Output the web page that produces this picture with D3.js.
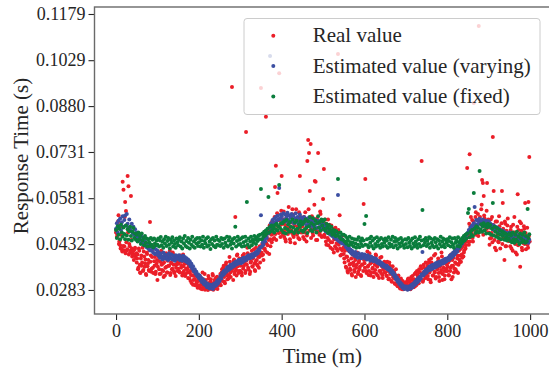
<!DOCTYPE html>
<html><head><meta charset="utf-8">
<script src="https://cdn.jsdelivr.net/npm/d3@7"></script>
<style>body{margin:0;background:#fff}svg{display:block}</style>
</head><body><svg id="c" width="549" height="370"></svg>
<script>
// Values in units of 1e-4 s (0.1 ms)
// realValue: even minutes t = 0, 2, ..., 998 ; realValueOdd: odd minutes t = 1, 3, ..., 999
const realValue = [
470,455,498,526,440,428,462,415,634,608,425,569,539,410,653,620,432,405,588,418,400,412,395,420,388,
372,398,355,410,340,385,362,420,348,392,370,335,404,360,380,345,504,395,352,415,338,376,390,342,368,
315,378,350,402,336,365,390,345,372,330,395,358,340,385,362,410,338,370,352,398,344,380,328,366,392,
352,388,340,375,362,330,398,345,368,335,380,350,322,365,340,312,355,330,300,342,318,335,305,325,296,
312,290,325,300,285,318,295,335,288,305,298,283,320,292,310,286,302,330,294,315,289,308,326,297,312,
305,335,318,350,328,362,310,345,372,330,358,320,390,340,365,942,352,378,335,520,348,395,360,338,385,
345,372,330,395,360,382,338,796,365,402,350,388,342,376,410,358,395,368,345,420,380,362,405,390,372,
939,395,420,380,440,410,845,455,428,470,400,448,482,438,465,500,452,617,686,478,598,510,987,470,495,
653,470,512,455,495,440,528,468,505,482,448,520,475,545,460,498,435,512,470,488,452,535,653,478,500,
490,455,520,470,505,440,702,770,728,604,757,480,512,460,495,637,634,475,445,728,500,468,530,458,485,
578,676,455,498,430,480,512,445,468,420,492,438,470,405,455,485,418,448,1049,430,526,395,440,412,460,
400,372,425,355,390,340,410,365,348,385,330,398,362,342,380,355,405,335,372,350,388,328,366,395,562,
370,643,345,390,358,332,402,368,340,385,355,325,378,348,395,362,330,372,345,388,338,360,322,350,375,
340,365,328,352,318,372,335,345,310,360,322,338,302,350,315,295,330,305,288,320,298,312,285,305,292,
295,310,285,320,298,290,315,302,328,305,318,295,340,312,332,305,350,322,360,702,338,315,355,330,372,
335,362,318,380,345,308,372,352,330,395,340,320,365,350,385,325,358,340,405,315,368,345,330,378,352,
345,372,330,390,355,318,380,362,340,405,350,368,385,338,410,372,395,420,388,430,405,445,418,460,679,
455,430,724,490,468,510,440,890,478,520,462,488,530,1140,505,472,545,640,630,588,515,498,482,630,500,
470,430,495,452,520,780,604,445,480,412,505,462,438,490,418,475,604,565,450,380,498,425,470,515,442,
460,425,488,440,410,470,520,432,455,398,594,478,445,358,500,420,465,435,482,565,415,450,430,569,715
];
const realValueOdd = [
478,462,505,432,445,418,490,408,426,412,520,402,438,415,470,398,425,410,445,392,408,380,415,398,402,
385,350,418,365,338,395,372,345,408,358,382,332,400,368,348,412,375,342,390,355,425,362,335,398,380,
358,392,335,375,410,348,368,325,385,355,402,340,378,362,395,332,372,350,405,365,338,388,355,376,345,
368,342,395,355,375,338,360,385,328,352,370,340,358,320,345,332,305,350,315,328,298,338,310,290,318,
298,322,287,310,340,295,305,284,315,300,290,328,306,288,318,296,335,284,308,292,322,300,286,315,302,
320,298,340,312,355,325,305,365,338,318,350,332,375,325,345,360,315,382,342,355,330,398,368,345,375,
362,340,385,352,400,368,345,378,420,355,392,335,372,398,360,385,415,348,375,402,365,392,355,425,398,
405,432,398,452,418,462,435,405,478,445,492,425,462,505,448,485,520,465,445,532,490,468,510,455,540,
498,462,538,475,448,515,490,465,552,480,438,502,468,528,455,492,472,545,462,508,480,448,520,470,492,
470,512,448,535,482,460,505,545,475,490,452,522,468,498,560,480,445,515,472,500,462,538,478,455,505,
488,462,512,440,478,452,428,495,465,438,470,415,482,448,425,462,435,410,478,442,418,452,398,435,420,
385,410,358,392,345,378,415,352,368,335,398,372,348,388,325,365,402,342,378,358,332,390,365,345,380,
355,382,338,408,362,345,392,330,372,352,385,340,365,398,335,358,378,322,368,345,390,332,355,370,340,
352,330,375,345,320,362,338,312,348,325,342,305,330,318,298,325,308,292,315,300,285,310,295,288,302,
302,288,318,294,308,285,325,300,315,292,335,310,298,345,325,305,340,318,352,330,310,365,342,322,348,
352,328,372,340,315,385,355,330,365,342,400,325,355,375,338,312,362,348,392,335,355,318,382,345,365,
358,332,378,345,398,362,325,388,352,372,410,342,395,365,382,415,375,398,425,392,412,438,428,455,440,
465,498,440,520,478,452,505,490,465,535,482,510,458,498,520,475,560,492,462,525,505,478,540,488,512,
485,450,512,468,438,495,478,420,505,458,485,440,522,470,448,500,432,482,462,505,425,475,492,445,468,
452,478,418,462,495,438,470,405,455,488,428,462,505,440,475,412,458,490,432,468,442,485,420,458,440
];
// estimates: t = 0, 2, ..., 998
const estimatedVarying = [
482,500,470,508,490,515,478,503,522,488,510,525,492,530,498,486,512,480,474,498,468,488,462,480,458,
470,455,462,448,458,440,456,436,450,428,440,432,422,434,418,430,412,426,410,420,404,418,400,415,402,
410,395,404,388,400,392,382,405,390,398,384,396,388,380,402,391,385,398,382,394,387,378,396,384,392,
384,396,380,392,386,378,394,382,390,376,386,372,382,368,376,360,368,352,360,344,350,336,342,328,334,
322,330,315,322,308,318,302,312,298,306,292,302,296,288,300,292,298,286,302,294,306,298,312,304,318,
312,328,320,338,330,344,336,348,342,356,346,358,350,364,354,366,358,370,362,374,366,376,368,380,372,
380,370,384,374,388,378,386,380,392,384,396,386,392,388,398,390,400,394,404,398,408,402,414,410,420,
526,424,436,430,448,440,458,452,470,466,484,1043,500,486,510,496,514,502,520,508,524,512,614,516,528,
522,508,532,512,528,505,520,534,510,526,502,518,530,508,524,500,516,532,506,520,498,514,528,504,518,
512,498,520,504,515,492,510,498,518,490,508,496,514,488,504,494,510,484,500,508,486,498,480,494,486,
496,480,492,474,488,470,484,466,478,462,474,458,470,454,466,450,462,446,591,442,456,438,450,434,444,
438,430,436,422,428,414,420,408,414,402,410,398,404,394,406,392,400,388,402,390,396,386,400,388,394,
398,386,394,382,396,384,390,378,392,382,388,376,386,380,384,372,378,370,376,366,372,362,368,358,364,
360,354,362,350,356,346,352,340,346,334,340,326,332,318,324,310,316,302,308,296,302,290,296,286,294,
288,294,284,292,286,296,288,300,292,304,298,310,302,316,308,322,314,326,320,334,406,330,342,336,348,
340,352,346,358,348,362,350,364,354,366,356,370,358,372,362,374,364,376,368,378,370,382,372,384,376,
382,388,380,394,386,398,390,404,396,410,402,414,408,420,418,428,426,436,434,444,446,452,456,462,466,
470,478,474,486,480,492,488,500,552,496,510,494,508,498,514,500,506,492,512,498,504,490,508,496,502,
506,490,498,486,494,480,492,478,488,474,486,472,482,470,478,466,476,464,474,462,470,460,468,458,466,
470,456,464,452,466,450,460,446,462,448,458,444,460,446,454,440,456,444,452,438,450,442,448,436,446
];
const estimatedFixed = [
478,452,490,462,482,448,495,470,456,486,465,448,492,460,480,446,474,488,458,444,472,484,452,466,446,
462,440,470,448,458,432,466,444,452,428,458,436,450,424,448,438,426,452,430,446,422,450,434,428,444,
430,450,424,444,455,428,440,420,448,434,456,426,442,452,430,418,446,436,454,424,444,432,420,450,438,
428,446,454,424,440,418,450,434,458,426,442,422,452,436,418,446,430,456,424,440,420,448,434,452,426,
438,452,424,444,430,456,420,442,434,450,424,454,428,440,416,448,432,452,426,444,422,456,430,446,428,
442,426,452,432,448,420,450,436,428,456,424,444,454,430,440,418,448,434,452,488,424,442,456,430,446,
432,450,424,454,438,426,456,442,569,430,450,422,440,456,428,446,436,458,446,432,454,442,460,448,462,
611,448,466,456,472,460,476,466,482,585,470,488,474,492,478,486,470,494,480,498,476,490,624,484,500,
478,500,470,506,484,466,510,480,496,472,504,488,474,512,486,468,502,478,508,482,470,496,488,506,476,
496,472,504,480,512,486,468,506,490,520,478,500,474,516,494,482,508,470,500,522,486,504,476,512,492,
506,482,512,476,498,486,468,494,480,472,488,462,478,466,476,458,474,460,643,468,454,470,448,462,446,
462,440,458,434,452,444,428,456,438,430,450,436,424,448,434,420,446,430,454,422,442,432,450,426,444,
497,430,523,448,428,422,450,436,456,426,444,418,450,432,424,454,440,428,446,420,452,432,424,446,436,
450,426,444,420,454,434,424,446,430,456,422,440,452,428,442,418,448,434,424,452,436,444,428,420,448,
432,446,422,452,436,426,444,418,450,434,424,454,440,430,420,448,432,456,424,444,543,428,446,436,452,
426,444,432,454,420,450,436,428,446,422,452,438,426,448,418,444,432,456,424,440,450,430,422,446,436,
448,428,442,454,424,438,450,430,420,452,436,444,426,454,438,424,446,434,452,440,458,444,462,450,466,
533,546,454,472,462,478,458,598,482,468,490,474,486,470,669,480,496,472,488,500,476,492,466,486,498,
488,466,494,462,482,565,460,488,472,456,484,466,452,478,462,448,474,458,470,446,466,454,444,462,450,
466,442,460,438,470,448,436,462,446,472,440,456,432,466,450,438,462,444,470,436,458,440,546,452,464
];
const seriesNames = ["Real value", "Estimated value (varying)", "Estimated value (fixed)"];
const seriesColors = ["#eb1e28", "#3c4fa2", "#0a7d3c"];
const yTickLabels = ["0.0283", "0.0432", "0.0581", "0.0731", "0.0880", "0.1029", "0.1179"];
const xTickValues = [0, 200, 400, 600, 800, 1000];
const xLabel = "Time (m)";
const yLabel = "Response Time (s)";

const FONT = "'Liberation Serif','Times New Roman',serif";
const svg = d3.select("#c");
const L = 94.5, R = 550.4, T = 7, B = 314;
const x = d3.scaleLinear().domain([-52, 1049]).range([L, R]);
const y = d3.scaleLinear().domain([0.0205, 0.12017]).range([B, T]);

const realPts = realValue.map((v, i) => ({t: 2 * i, v: v / 10000}))
  .concat(realValueOdd.map((v, i) => ({t: 2 * i + 1, v: v / 10000})))
  .sort((a, b) => a.t - b.t);
const varPts = estimatedVarying.map((v, i) => ({t: 2 * i, v: v / 10000}));
const fixPts = estimatedFixed.map((v, i) => ({t: 2 * i, v: v / 10000}));

const pts = svg.append("g");
[realPts, varPts, fixPts].forEach((ser, si) => {
  pts.append("g").selectAll("circle").data(ser).join("circle")
    .attr("cx", d => x(d.t)).attr("cy", d => y(d.v)).attr("r", 2)
    .attr("fill", seriesColors[si]);
});

// axes
const yAxis = d3.axisLeft(y).tickValues(yTickLabels.map(Number))
  .tickFormat((d, i) => yTickLabels[i]).tickSize(6).tickPadding(3).tickSizeOuter(0);
const xAxis = d3.axisBottom(x).tickValues(xTickValues).tickFormat(d3.format("d"))
  .tickSize(6).tickPadding(4.5).tickSizeOuter(0);
const gy = svg.append("g").attr("transform", `translate(${L},0)`).call(yAxis);
const gx = svg.append("g").attr("transform", `translate(0,${B})`).call(xAxis);
[gx, gy].forEach(g => {
  g.select(".domain").remove();
  g.selectAll("line").attr("stroke", "#262626").attr("stroke-width", 1.1);
  g.selectAll("text").attr("fill", "#262626").style("font-family", FONT).style("font-size", "18px");
});

// frame
svg.append("rect").attr("x", L).attr("y", T).attr("width", R - L).attr("height", B - T)
  .attr("fill", "none").attr("stroke", "#6a6a6a").attr("stroke-width", 1.4);

// labels
svg.append("text").attr("x", (L + R) / 2).attr("y", 362.5).attr("text-anchor", "middle")
  .style("font-family", FONT).style("font-size", "21px").attr("fill", "#262626").text(xLabel);
svg.append("text").attr("transform", "translate(28,156) rotate(-90)").attr("text-anchor", "middle")
  .style("font-family", FONT).style("font-size", "21px").attr("fill", "#262626").text(yLabel);

// legend
const lg = svg.append("g");
lg.append("rect").attr("x", 244).attr("y", 18.5).attr("width", 296).attr("height", 96).attr("rx", 3)
  .attr("fill", "#fff").attr("fill-opacity", 0.8).attr("stroke", "#cccccc").attr("stroke-width", 1);
seriesNames.forEach((name, i) => {
  const base = 42.3 + i * 30.3;
  lg.append("circle").attr("cx", 273.3).attr("cy", base - 6.5).attr("r", 2).attr("fill", seriesColors[i]);
  lg.append("text").attr("x", 312.7).attr("y", base).style("font-family", FONT).style("font-size", "21px")
    .attr("fill", "#262626").text(name);
});
</script></body></html>
